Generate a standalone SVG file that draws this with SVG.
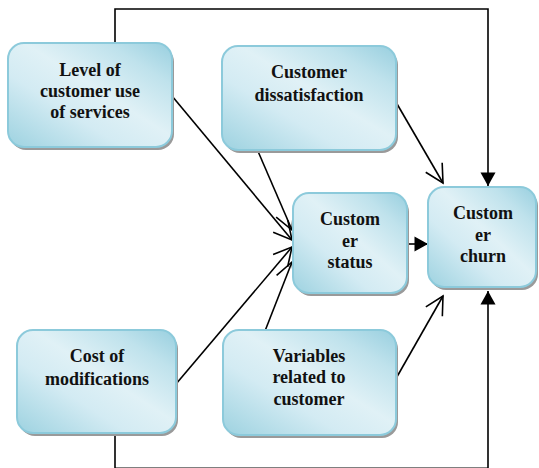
<svg xmlns="http://www.w3.org/2000/svg" width="539" height="468" viewBox="0 0 539 468">
  <defs>
    <linearGradient id="boxFill" x1="0" y1="1" x2="1" y2="0">
      <stop offset="0" stop-color="#9dd2e0"/>
      <stop offset="0.35" stop-color="#d3ebf3"/>
      <stop offset="0.55" stop-color="#e0f1f6"/>
      <stop offset="0.8" stop-color="#bfe2ec"/>
      <stop offset="1" stop-color="#98cfdf"/>
    </linearGradient>
    <marker id="open" markerUnits="userSpaceOnUse" markerWidth="24" markerHeight="24" viewBox="-20 -12 24 24" refX="0" refY="0" orient="auto">
      <path d="M-18,-9.5 L0,0 L-18,9.5" fill="none" stroke="#000" stroke-width="1.6"/>
    </marker>
    <marker id="solid" markerUnits="userSpaceOnUse" markerWidth="16" markerHeight="18" viewBox="-14 -9 16 18" refX="0" refY="0" orient="auto">
      <path d="M-13.5,-7.5 L0,0 L-13.5,7.5 Z" fill="#000"/>
    </marker>
  </defs>
  <style>
    .shadow { fill: #9a9a9a; }
    .box { fill: url(#boxFill); stroke: #8ccadb; stroke-width: 2; }
    .label { font-family: 'Liberation Serif', 'Times New Roman', serif; font-weight: bold; font-size: 18px; fill: #111; text-anchor: middle; }
    .link { fill: none; stroke: #000; stroke-width: 1.6; }
  </style>

  <g id="connectors">
    <!-- feedback loops into churn -->
    <polyline class="link" points="115,43 115,9 488,9 488,186" marker-end="url(#solid)"/>
    <polyline class="link" points="115,433 115,468.4 488,468.4 488,291" marker-end="url(#solid)"/>
    <!-- status to churn -->
    <line class="link" x1="407" y1="244" x2="428" y2="244" marker-end="url(#solid)"/>
    <!-- drivers of status -->
    <line class="link" x1="172" y1="96" x2="292" y2="240" marker-end="url(#open)"/>
    <line class="link" x1="257" y1="149" x2="292" y2="230" marker-end="url(#open)"/>
    <line class="link" x1="176" y1="384" x2="292" y2="247" marker-end="url(#open)"/>
    <line class="link" x1="265" y1="331" x2="292" y2="262" marker-end="url(#open)"/>
    <!-- direct drivers of churn -->
    <line class="link" x1="393" y1="97" x2="443" y2="183" marker-end="url(#open)"/>
    <line class="link" x1="394" y1="382" x2="443" y2="296" marker-end="url(#open)"/>
  </g>

  <g id="usage">
    <rect class="shadow" x="10" y="46" width="164" height="104" rx="16"/>
    <rect class="box" x="8" y="43" width="164" height="104" rx="16"/>
    <text class="label" x="90" y="76">Level of</text>
    <text class="label" x="90" y="97">customer use</text>
    <text class="label" x="90" y="118">of services</text>
  </g>

  <g id="dissatisfaction">
    <rect class="shadow" x="224" y="49" width="174" height="104" rx="16"/>
    <rect class="box" x="222" y="46" width="174" height="104" rx="16"/>
    <text class="label" x="309" y="78">Customer</text>
    <text class="label" x="309" y="101">dissatisfaction</text>
  </g>

  <g id="status">
    <rect class="shadow" x="295" y="196" width="114" height="100" rx="16"/>
    <rect class="box" x="293" y="193" width="114" height="100" rx="16"/>
    <text class="label" x="350" y="225">Custom</text>
    <text class="label" x="350" y="247">er</text>
    <text class="label" x="350" y="268">status</text>
  </g>

  <g id="churn">
    <rect class="shadow" x="430" y="190" width="108" height="100" rx="16"/>
    <rect class="box" x="428" y="187" width="108" height="100" rx="16"/>
    <text class="label" x="483" y="219">Custom</text>
    <text class="label" x="483" y="241">er</text>
    <text class="label" x="483" y="262">churn</text>
  </g>

  <g id="cost">
    <rect class="shadow" x="19" y="333" width="159" height="103" rx="16"/>
    <rect class="box" x="17" y="330" width="159" height="103" rx="16"/>
    <text class="label" x="97" y="362">Cost of</text>
    <text class="label" x="97" y="385">modifications</text>
  </g>

  <g id="variables">
    <rect class="shadow" x="225" y="333" width="173" height="105" rx="16"/>
    <rect class="box" x="223" y="330" width="173" height="105" rx="16"/>
    <text class="label" x="309" y="362">Variables</text>
    <text class="label" x="309" y="383">related to</text>
    <text class="label" x="309" y="405">customer</text>
  </g>
</svg>
